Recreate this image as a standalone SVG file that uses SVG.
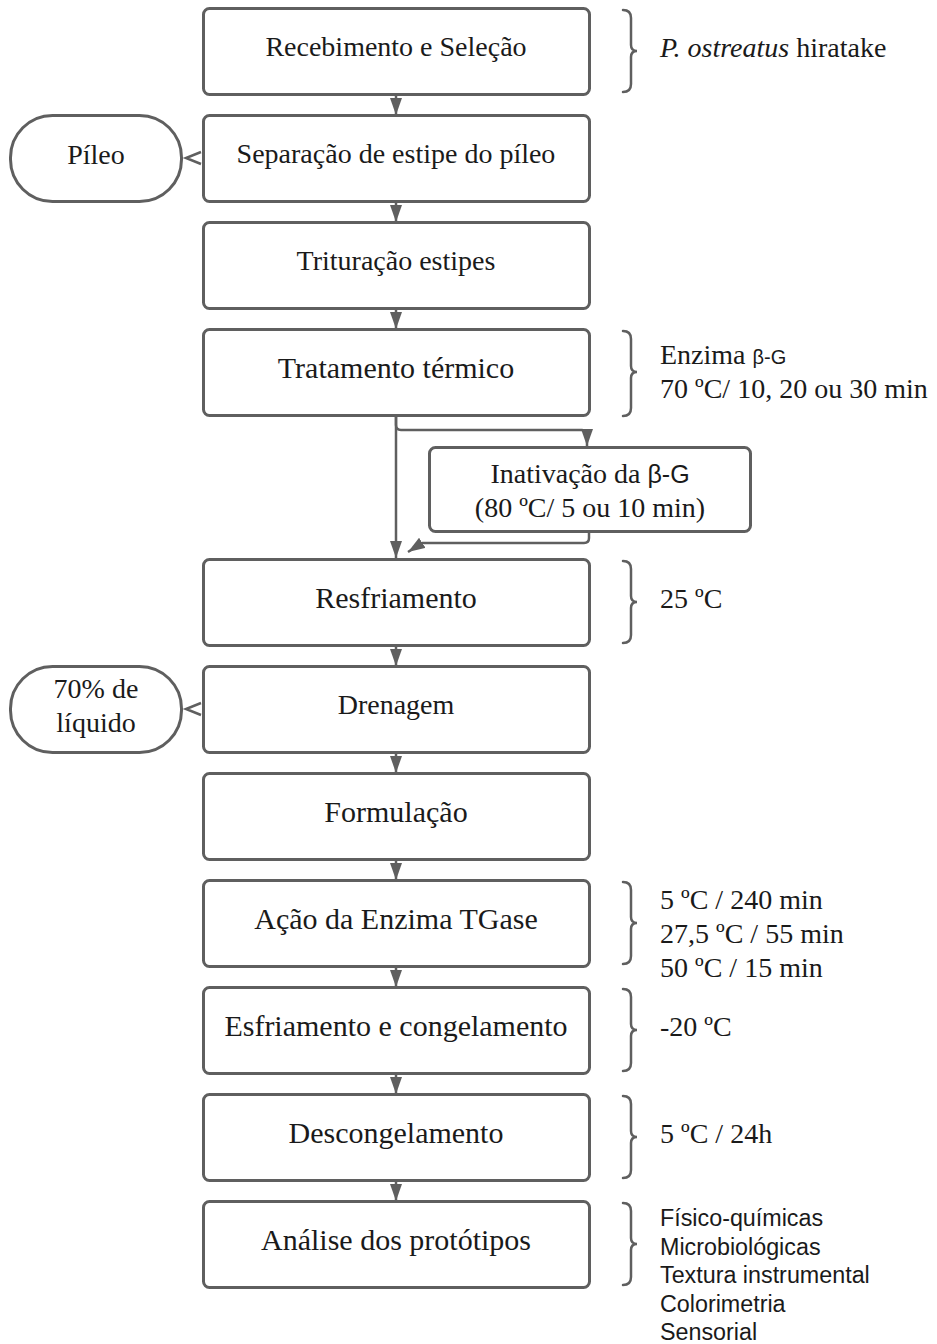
<svg xmlns="http://www.w3.org/2000/svg" width="937" height="1344" viewBox="0 0 937 1344">
<defs>
<style>
.box{fill:#fff;stroke:#5f5f5f;stroke-width:3}
.term{fill:#fff;stroke:#5f5f5f;stroke-width:3}
.t{font-family:"Liberation Serif","Times New Roman",serif;font-size:28px;fill:#1a1a1a;text-anchor:middle}
.tl{font-family:"Liberation Serif","Times New Roman",serif;font-size:28px;fill:#1a1a1a}
.s{font-family:"Liberation Sans",Arial,sans-serif;font-size:23.3px;fill:#1a1a1a}
.c{fill:none;stroke:#5f5f5f;stroke-width:2.5}
.oa{fill:none;stroke:#5f5f5f;stroke-width:2.5;stroke-linejoin:miter}
.br{fill:none;stroke:#5f5f5f;stroke-width:2.5;stroke-linecap:round}
</style>
<marker id="ah" viewBox="0 0 17 12" refX="17" refY="6" markerWidth="17" markerHeight="12" orient="auto" markerUnits="userSpaceOnUse">
<path d="M0,0 L17,6 L0,12 z" fill="#5f5f5f"/>
</marker>
</defs>
<rect width="937" height="1344" fill="#fff"/>

<g id="connectors">
<path class="c" d="M396,94 V115" marker-end="url(#ah)"/>
<path class="c" d="M396,201 V222" marker-end="url(#ah)"/>
<path class="c" d="M396,308 V329" marker-end="url(#ah)"/>
<path class="c" d="M396,416 V558" marker-end="url(#ah)"/>
<path class="c" d="M396,416 V425 Q396,430 401,430 H582 Q587,430 587,435 V446" marker-end="url(#ah)"/>
<path class="c" d="M589,531 V538 Q589,543 584,543 H422 L408,552" marker-end="url(#ah)"/>
<path class="c" d="M396,645 V666" marker-end="url(#ah)"/>
<path class="c" d="M396,752 V773" marker-end="url(#ah)"/>
<path class="c" d="M396,859 V880" marker-end="url(#ah)"/>
<path class="c" d="M396,966 V987" marker-end="url(#ah)"/>
<path class="c" d="M396,1073 V1094" marker-end="url(#ah)"/>
<path class="c" d="M396,1180 V1201" marker-end="url(#ah)"/>
<path class="oa" d="M201,152 L186,158 L201,164"/>
<path class="oa" d="M201,703 L186,709 L201,715"/>
</g>

<g id="n1"><rect class="box" x="203.5" y="8.5" width="386" height="86" rx="6"/><text class="t" x="396" y="56">Recebimento e Seleção</text></g>
<g id="n2"><rect class="box" x="203.5" y="115.5" width="386" height="86" rx="6"/><text class="t" x="396" y="163">Separação de estipe do píleo</text></g>
<g id="n3"><rect class="box" x="203.5" y="222.5" width="386" height="86" rx="6"/><text class="t" x="396" y="270">Trituração estipes</text></g>
<g id="n4"><rect class="box" x="203.5" y="329.5" width="386" height="86" rx="6"/><text class="t" x="396" y="378" style="font-size:30px">Tratamento térmico</text></g>
<g id="n5"><rect class="box" x="429.5" y="447.5" width="321" height="84" rx="6"/><text class="t" x="590" y="483">Inativação da <tspan style="font-family:'Liberation Sans',Arial,sans-serif;font-size:25px">β-G</tspan></text><text class="t" x="590" y="517">(80 ºC/ 5 ou 10 min)</text></g>
<g id="n6"><rect class="box" x="203.5" y="559.5" width="386" height="86" rx="6"/><text class="t" x="396" y="608" style="font-size:30px">Resfriamento</text></g>
<g id="n7"><rect class="box" x="203.5" y="666.5" width="386" height="86" rx="6"/><text class="t" x="396" y="714">Drenagem</text></g>
<g id="n8"><rect class="box" x="203.5" y="773.5" width="386" height="86" rx="6"/><text class="t" x="396" y="822" style="font-size:30px">Formulação</text></g>
<g id="n9"><rect class="box" x="203.5" y="880.5" width="386" height="86" rx="6"/><text class="t" x="396" y="929" style="font-size:30px">Ação da Enzima TGase</text></g>
<g id="n10"><rect class="box" x="203.5" y="987.5" width="386" height="86" rx="6"/><text class="t" x="396" y="1036" style="font-size:30px">Esfriamento e congelamento</text></g>
<g id="n11"><rect class="box" x="203.5" y="1094.5" width="386" height="86" rx="6"/><text class="t" x="396" y="1143" style="font-size:30px">Descongelamento</text></g>
<g id="n12"><rect class="box" x="203.5" y="1201.5" width="386" height="86" rx="6"/><text class="t" x="396" y="1250" style="font-size:30px">Análise dos protótipos</text></g>

<g id="pileo"><rect class="term" x="10.5" y="115.5" width="171" height="86" rx="42"/><text class="t" x="96" y="164">Píleo</text></g>
<g id="liquido"><rect class="term" x="10.5" y="666.5" width="171" height="86" rx="42"/><text class="t" x="96" y="698">70% de</text><text class="t" x="96" y="732">líquido</text></g>

<g id="notes">
<path class="br" d="M623,10 Q631,10 631,18 V45 Q631,51 637,51 Q631,51 631,57 V84 Q631,92 623,92"/>
<text class="tl" x="660" y="57"><tspan font-style="italic">P. ostreatus</tspan> hiratake</text>
<path class="br" d="M623,331 Q631,331 631,339 V366 Q631,372 637,372 Q631,372 631,378 V408 Q631,416 623,416"/>
<text class="tl" x="660" y="364">Enzima <tspan style="font-family:'Liberation Sans',Arial,sans-serif;font-size:20px">β-G</tspan></text>
<text class="tl" x="660" y="398">70 ºC/ 10, 20 ou 30 min</text>
<path class="br" d="M623,561 Q631,561 631,569 V596 Q631,602 637,602 Q631,602 631,608 V635 Q631,643 623,643"/>
<text class="tl" x="660" y="608">25 ºC</text>
<path class="br" d="M623,882 Q631,882 631,890 V917 Q631,923 637,923 Q631,923 631,929 V956 Q631,964 623,964"/>
<text class="tl" x="660" y="909">5 ºC / 240 min</text>
<text class="tl" x="660" y="943">27,5 ºC / 55 min</text>
<text class="tl" x="660" y="977">50 ºC / 15 min</text>
<path class="br" d="M623,989 Q631,989 631,997 V1024 Q631,1030 637,1030 Q631,1030 631,1036 V1063 Q631,1071 623,1071"/>
<text class="tl" x="660" y="1036">-20 ºC</text>
<path class="br" d="M623,1096 Q631,1096 631,1104 V1131 Q631,1137 637,1137 Q631,1137 631,1143 V1170 Q631,1178 623,1178"/>
<text class="tl" x="660" y="1143">5 ºC / 24h</text>
<path class="br" d="M623,1203 Q631,1203 631,1211 V1238 Q631,1244 637,1244 Q631,1244 631,1250 V1277 Q631,1285 623,1285"/>
<text class="s" x="660" y="1226">Físico-químicas</text>
<text class="s" x="660" y="1255">Microbiológicas</text>
<text class="s" x="660" y="1283">Textura instrumental</text>
<text class="s" x="660" y="1312">Colorimetria</text>
<text class="s" x="660" y="1340">Sensorial</text>
</g>
</svg>
